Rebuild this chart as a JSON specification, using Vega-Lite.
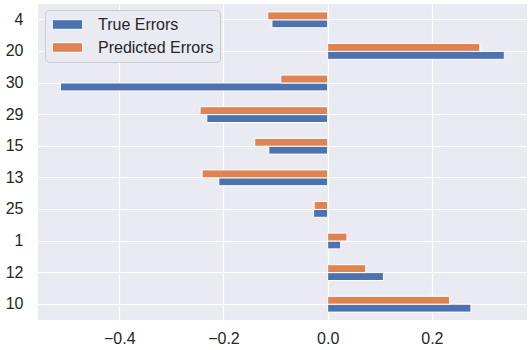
{
  "$schema": "https://vega.github.io/schema/vega-lite/v6.json",
  "width": 489,
  "height": 316,
  "autosize": "none",
  "padding": {"left": 38, "top": 4, "right": 3, "bottom": 30},
  "background": "white",
  "config": {
    "font": "Liberation Sans",
    "view": {"fill": "#EAEAF2", "stroke": null},
    "axis": {"domain": false, "ticks": false, "gridColor": "white", "gridWidth": 1.2, "labelColor": "#262626", "labelFontSize": 16, "title": null}
  },
  "data": {
    "values": [
      {"id": "4", "series": "True Errors", "value": -0.107},
      {"id": "4", "series": "Predicted Errors", "value": -0.115},
      {"id": "20", "series": "True Errors", "value": 0.339},
      {"id": "20", "series": "Predicted Errors", "value": 0.292},
      {"id": "30", "series": "True Errors", "value": -0.513},
      {"id": "30", "series": "Predicted Errors", "value": -0.090},
      {"id": "29", "series": "True Errors", "value": -0.232},
      {"id": "29", "series": "Predicted Errors", "value": -0.245},
      {"id": "15", "series": "True Errors", "value": -0.113},
      {"id": "15", "series": "Predicted Errors", "value": -0.140},
      {"id": "13", "series": "True Errors", "value": -0.209},
      {"id": "13", "series": "Predicted Errors", "value": -0.241},
      {"id": "25", "series": "True Errors", "value": -0.027},
      {"id": "25", "series": "Predicted Errors", "value": -0.026},
      {"id": "1", "series": "True Errors", "value": 0.025},
      {"id": "1", "series": "Predicted Errors", "value": 0.037},
      {"id": "12", "series": "True Errors", "value": 0.107},
      {"id": "12", "series": "Predicted Errors", "value": 0.073},
      {"id": "10", "series": "True Errors", "value": 0.275},
      {"id": "10", "series": "Predicted Errors", "value": 0.234}
    ]
  },
  "mark": {"type": "bar", "stroke": "white", "strokeWidth": 1},
  "encoding": {
    "y": {
      "field": "id", "type": "nominal",
      "sort": ["4", "20", "30", "29", "15", "13", "25", "1", "12", "10"],
      "scale": {"paddingInner": 0.5, "paddingOuter": 0.25},
      "axis": {"bandPosition": 0.5, "labelPadding": 15, "grid": true}
    },
    "yOffset": {
      "field": "series", "type": "nominal",
      "scale": {"domain": ["Predicted Errors", "True Errors"]}
    },
    "x": {
      "field": "value", "type": "quantitative",
      "scale": {"domain": [-0.556, 0.3826], "nice": false, "zero": false},
      "axis": {"values": [-0.4, -0.2, 0, 0.2], "format": ".1f", "labelPadding": 10, "grid": true}
    },
    "color": {
      "field": "series", "type": "nominal",
      "scale": {"domain": ["True Errors", "Predicted Errors"], "range": ["#4C72B0", "#DD8452"]},
      "legend": {
        "title": null, "orient": "none", "legendX": 7, "legendY": 6,
        "symbolType": "M-1.9,-0.6H1.9V0.6H-1.9Z", "symbolSize": 256, "symbolOffset": 8, "symbolStrokeColor": "white", "symbolStrokeWidth": 1, "symbolOpacity": 1,
        "labelFontSize": 16, "labelColor": "#262626", "labelOffset": 22,
        "fillColor": "#EAEAF2", "strokeColor": "#CCCCCC", "cornerRadius": 4, "padding": 6, "rowPadding": 6
      }
    }
  }
}
